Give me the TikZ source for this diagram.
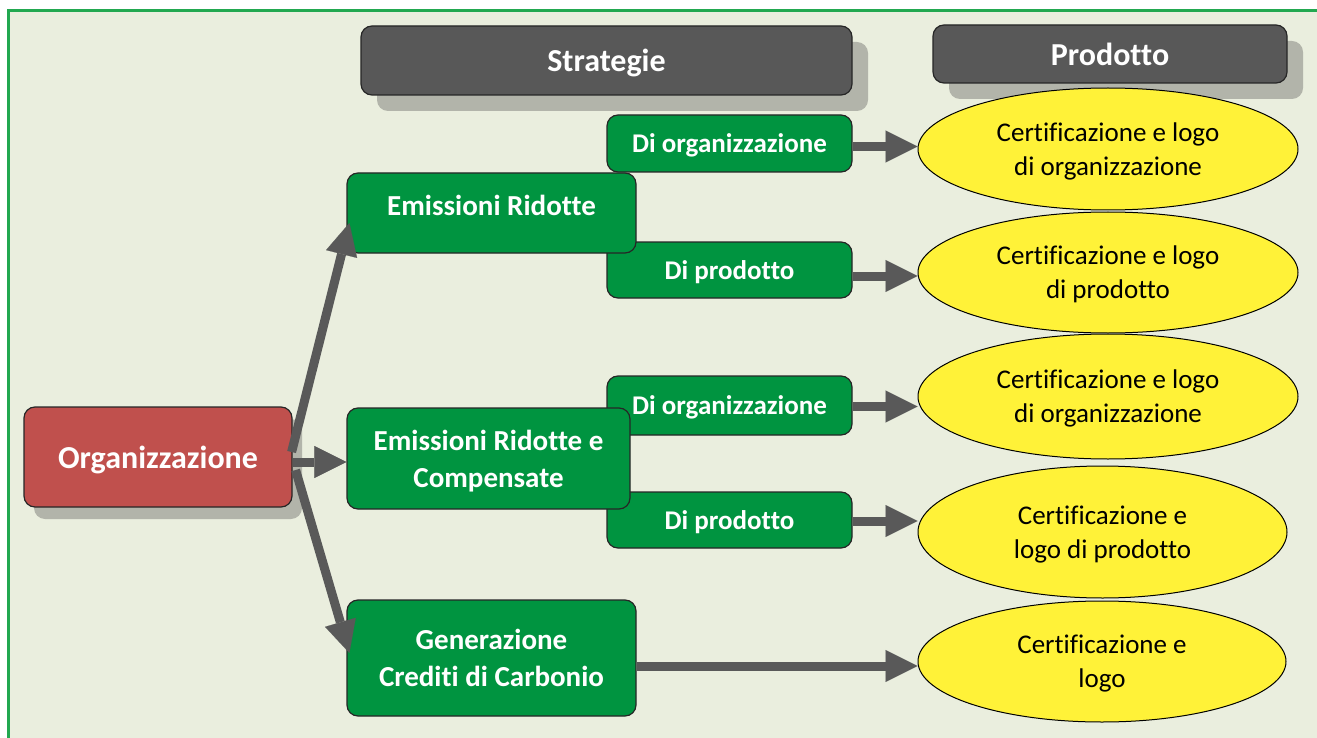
\documentclass[tikz,border=0pt]{standalone}
\usepackage{fontspec}
\setmainfont{Carlito}[Ligatures={NoCommon}]
\usetikzlibrary{arrows.meta,shadows,calc,shapes.geometric}
\definecolor{bgc}{RGB}{234,238,222}
\definecolor{framec}{RGB}{34,168,80}
\definecolor{hdr}{RGB}{88,88,88}
\definecolor{grn}{RGB}{0,148,64}
\definecolor{redc}{RGB}{192,80,77}
\definecolor{ylw}{RGB}{255,242,56}
\definecolor{arrc}{RGB}{89,89,89}
\definecolor{shd}{RGB}{178,180,170}
\begin{document}
\begin{tikzpicture}[x=1pt,y=-1pt,
  box/.style={draw=black!85, line width=1.2pt, rounded corners=11pt, inner sep=0pt,
    align=center, text=white, font=\bfseries\fontsize{29}{37}\selectfont},
  hdrbox/.style={box, fill=hdr, text depth=0pt, font=\bfseries\fontsize{32}{36}\selectfont,
    drop shadow={shadow xshift=16pt, shadow yshift=-16pt, fill=shd, opacity=1}},
  grnbox/.style={box, fill=grn, minimum width=289pt},
  subbox/.style={box, fill=grn, text depth=0pt, minimum width=245pt, font=\bfseries\fontsize{27}{30}\selectfont},
  orgbox/.style={box, fill=redc, text depth=0pt, font=\bfseries\fontsize{32}{36}\selectfont,
    drop shadow={shadow xshift=10pt, shadow yshift=-12pt, fill=shd, opacity=1}},
  ell/.style={ellipse, draw=black, line width=1pt, fill=ylw, inner sep=0pt, text depth=0pt,
    align=center, text=black, font=\fontsize{27}{34}\selectfont},
  arr/.style={draw=arrc, line width=9pt, -{Triangle[length=32pt,width=32pt,line width=0.1pt]}}
]
\clip (0,0) rectangle (1317,738);
\fill[white] (0,0) rectangle (1317,738);
\draw[framec, line width=3pt, fill=bgc] (8,11) rectangle (1345,765);

% headers
\node[hdrbox, minimum width=491pt, minimum height=69pt] (strat) at (606.5,60.5) {Strategie};
\node[hdrbox, minimum width=354pt, minimum height=58pt] (prod) at (1110,54) {Prodotto};

% sub boxes
\node[subbox, minimum height=57pt] (do1) at (729.5,143.5) {Di organizzazione};
\node[subbox, minimum height=56pt] (dp1) at (729.5,270) {Di prodotto};
\node[subbox, minimum height=59pt] (do2) at (729.5,405.5) {Di organizzazione};
\node[subbox, minimum height=56pt] (dp2) at (729.5,520) {Di prodotto};

% strategy boxes
\node[grnbox, text depth=16pt, minimum height=80pt] (er) at (491.5,213) {Emissioni Ridotte};
\node[grnbox, text depth=0pt, minimum width=283pt, minimum height=101pt] (erc) at (488.5,458.5) {Emissioni Ridotte e\\Compensate};
\node[grnbox, minimum height=116pt] (gcc) at (491.5,658) {Generazione\\Crediti di Carbonio};

% organization
\node[orgbox, minimum width=268pt, minimum height=100pt] (org) at (158,457) {Organizzazione};

% ellipses
\node[ell, minimum width=380pt, minimum height=122pt] (e1) at (1108,149) {Certificazione e logo\\di organizzazione};
\node[ell, minimum width=380pt, minimum height=121pt] (e2) at (1108,272.5) {Certificazione e logo\\di prodotto};
\node[ell, minimum width=380pt, minimum height=125pt] (e3) at (1108,396.5) {Certificazione e logo\\di organizzazione};
\node[ell, minimum width=369pt, minimum height=132pt] (e4) at (1102.5,532) {Certificazione e\\logo di prodotto};
\node[ell, minimum width=368pt, minimum height=121pt] (e5) at (1102,661.5) {Certificazione e\\logo};

% arrows from organization
\coordinate (o1) at ($(org.east)+(-1,-5)$);
\coordinate (o2) at ($(org.east)+(0,5)$);
\coordinate (o3) at ($(org.east)+(3,13)$);
\coordinate (t1) at ($(er.west)+(3,10)$);
\coordinate (t3) at ($(gcc.west)+(3,-5)$);
\draw[arr] (o1) -- (t1);
\draw[arr] (o2) -- (o2 -| erc.west);
\draw[arr] (o3) -- (t3);

% arrows to products
\coordinate (a1) at ($(do1.east)+(0,3)$);
\coordinate (a2) at ($(dp1.east)+(0,6)$);
\coordinate (a3) at ($(do2.east)+(0,1)$);
\coordinate (a4) at ($(dp2.east)+(0,1)$);
\coordinate (a5) at ($(gcc.east)+(0,8)$);
\draw[arr] (a1) -- (a1 -| e1.west);
\draw[arr] (a2) -- (a2 -| e2.west);
\draw[arr] (a3) -- (a3 -| e3.west);
\draw[arr] (a4) -- (a4 -| e4.west);
\draw[arr] (a5) -- (a5 -| e5.west);
\end{tikzpicture}
\end{document}
